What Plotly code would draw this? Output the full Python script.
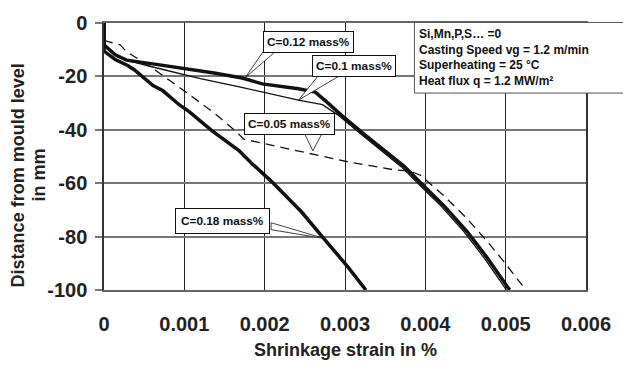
import plotly.graph_objects as go

# ---- data ----
c018_x = [0, 0, 0.00014, 0.00030, 0.00038, 0.00061, 0.00073, 0.00094, 0.00106, 0.00135, 0.00168,
          0.00184, 0.00209, 0.00246, 0.00275, 0.00304, 0.00326]
c018_y = [0, -10.5, -13.7, -16.0, -17.6, -23.4, -25.3, -30.7, -33.2, -40.5, -47.8,
          -52.6, -59.5, -70.8, -81.2, -91.5, -100]

c012_x = [0, 0, 0.00014, 0.00028, 0.00065, 0.00100, 0.00137, 0.00172, 0.00197, 0.00242, 0.00263,
          0.00279, 0.00295, 0.00324, 0.00349, 0.00374, 0.00394, 0.00423, 0.00452, 0.00477, 0.00505]
c012_y = [0, -8.2, -11.9, -13.9, -15.5, -17.0, -18.7, -20.6, -22.8, -24.6, -25.9,
          -30.0, -34.4, -41.7, -47.8, -53.8, -59.8, -68.4, -78.1, -87.9, -100]

c010_x = [0, 0, 0.00014, 0.00028, 0.00057, 0.00120, 0.00170, 0.00210, 0.00242, 0.00272, 0.00291,
          0.00320, 0.00345, 0.00370, 0.00390, 0.00419, 0.00448, 0.00473, 0.00501]
c010_y = [0, -8.2, -11.9, -13.9, -16.2, -20.8, -24.0, -26.8, -28.9, -30.6, -34.4,
          -41.7, -47.8, -53.8, -59.8, -68.4, -78.1, -87.9, -100]

c005_x = [0, 0.00020, 0.00028, 0.00060, 0.00102, 0.00135, 0.00164, 0.00174, 0.00201, 0.00242,
          0.00304, 0.00361, 0.00381, 0.00394, 0.00423, 0.00452, 0.00477, 0.00497, 0.00522]
c005_y = [-6.5, -8.2, -10.7, -16.8, -25.9, -33.2, -40.5, -43.5, -45.3, -48.0,
          -52.0, -55.0, -55.5, -57.0, -64.7, -73.3, -81.8, -89.1, -98.8]

x_ticks = [0, 0.001, 0.002, 0.003, 0.004, 0.005, 0.006]
x_tick_labels = ["0", "0.001", "0.002", "0.003", "0.004", "0.005", "0.006"]
y_ticks = [0, -20, -40, -60, -80, -100]
y_tick_labels = ["0", "-20", "-40", "-60", "-80", "-100"]

# callouts: label, box centre, wedge base points, tip
callout_labels = ["C=0.12 mass%", "C=0.1 mass%", "C=0.05 mass%", "C=0.18 mass%"]
callout_box = [(0.00255, -7.0), (0.00311, -16.15), (0.002315, -37.8), (0.001475, -74.1)]
callout_base = [((0.00202, -9.0), (0.00220, -9.0)),
                ((0.00269, -18.9), (0.00298, -18.9)),
                ((0.00248, -40.4), (0.00273, -40.4)),
                ((0.00208, -74.8), (0.00208, -77.4))]
callout_tip = [(0.00176, -20.4), (0.00242, -28.9), (0.00260, -47.9), (0.00274, -80.7)]
callout_pad = [3, 3, 3, 5]

info_lines = ["Si,Mn,P,S… =0", "Casting Speed vg = 1.2 m/min",
              "Superheating = 25 °C", "Heat flux q = 1.2 MW/m²"]

FONT = "Liberation Sans, Arial, sans-serif"

fig = go.Figure()
fig.add_trace(go.Scatter(x=c005_x, y=c005_y, mode="lines",
                         line=dict(color="#111", width=1.3, dash="9px,6px"), showlegend=False))
fig.add_trace(go.Scatter(x=c010_x, y=c010_y, mode="lines",
                         line=dict(color="#111", width=1.3), showlegend=False))
fig.add_trace(go.Scatter(x=c012_x, y=c012_y, mode="lines",
                         line=dict(color="#111", width=3.5), showlegend=False))
fig.add_trace(go.Scatter(x=c018_x, y=c018_y, mode="lines",
                         line=dict(color="#111", width=3.5), showlegend=False))

shapes = []
annotations = []
for lab, box, base, tip, pad in zip(callout_labels, callout_box, callout_base, callout_tip, callout_pad):
    (bx1, by1), (bx2, by2) = base
    tx, ty = tip
    shapes.append(dict(type="path", xref="x", yref="y",
                       path=f"M {bx1} {by1} L {tx} {ty} L {bx2} {by2} Z",
                       line=dict(color="#111", width=0.8), fillcolor="white", layer="above"))
    annotations.append(dict(x=box[0], y=box[1], xref="x", yref="y", text=f"<b>{lab}</b>",
                            showarrow=False, font=dict(family=FONT, size=11.8, color="#111"),
                            bgcolor="white", bordercolor="#111", borderwidth=1, borderpad=pad))

# info box
shapes.append(dict(type="rect", xref="paper", yref="paper", x0=0.644, x1=1.09, y0=0.7375, y1=1.002,
                   line=dict(color="#555", width=1), fillcolor="white", layer="above"))
annotations.append(dict(x=0.649, y=0.994, xref="paper", yref="paper", xanchor="left", yanchor="top",
                        align="left", showarrow=False,
                        text="<br>".join(f"<b>{t}</b>" for t in info_lines),
                        font=dict(family=FONT, size=12, color="#111")))

# axis titles
annotations.append(dict(x=-0.178, y=0.43, xref="paper", yref="paper", xanchor="center", yanchor="middle",
                        textangle=-90, showarrow=False,
                        text="<b>Distance from mould level</b>",
                        font=dict(family=FONT, size=18, color="#222")))
annotations.append(dict(x=-0.134, y=0.43, xref="paper", yref="paper", xanchor="center", yanchor="middle",
                        textangle=-90, showarrow=False,
                        text="<b>in mm</b>", font=dict(family=FONT, size=18, color="#222")))
annotations.append(dict(x=0.5, y=-0.223, xref="paper", yref="paper", xanchor="center", yanchor="middle",
                        showarrow=False,
                        text="<b>Shrinkage strain in %</b>", font=dict(family=FONT, size=18, color="#222")))

fig.update_layout(
    width=623, height=366,
    margin=dict(l=104, r=35, t=16, b=76),
    paper_bgcolor="white", plot_bgcolor="white",
    shapes=shapes, annotations=annotations,
    font=dict(family=FONT, color="#222"),
)
fig.update_xaxes(range=[0, 0.006], tickvals=x_ticks, ticktext=[f"<b>{t}</b>" for t in x_tick_labels],
                 showgrid=True, gridcolor="#222", gridwidth=1, zeroline=False,
                 showline=True, linecolor="#666", linewidth=1.5, mirror=True,
                 ticks="", tickfont=dict(family=FONT, size=20, color="#222"), ticklabelstandoff=15)
fig.update_yaxes(range=[-100, 0], tickvals=y_ticks, ticktext=[f"<b>{t}</b>" for t in y_tick_labels],
                 showgrid=True, gridcolor="#777", gridwidth=1.5, zeroline=False,
                 showline=True, linecolor="#333", linewidth=1.5, mirror=True,
                 ticks="outside", ticklen=7, tickcolor="#777", tickwidth=1.5,
                 tickfont=dict(family=FONT, size=20, color="#222"), ticklabelstandoff=4)

fig.write_html("out.html")
